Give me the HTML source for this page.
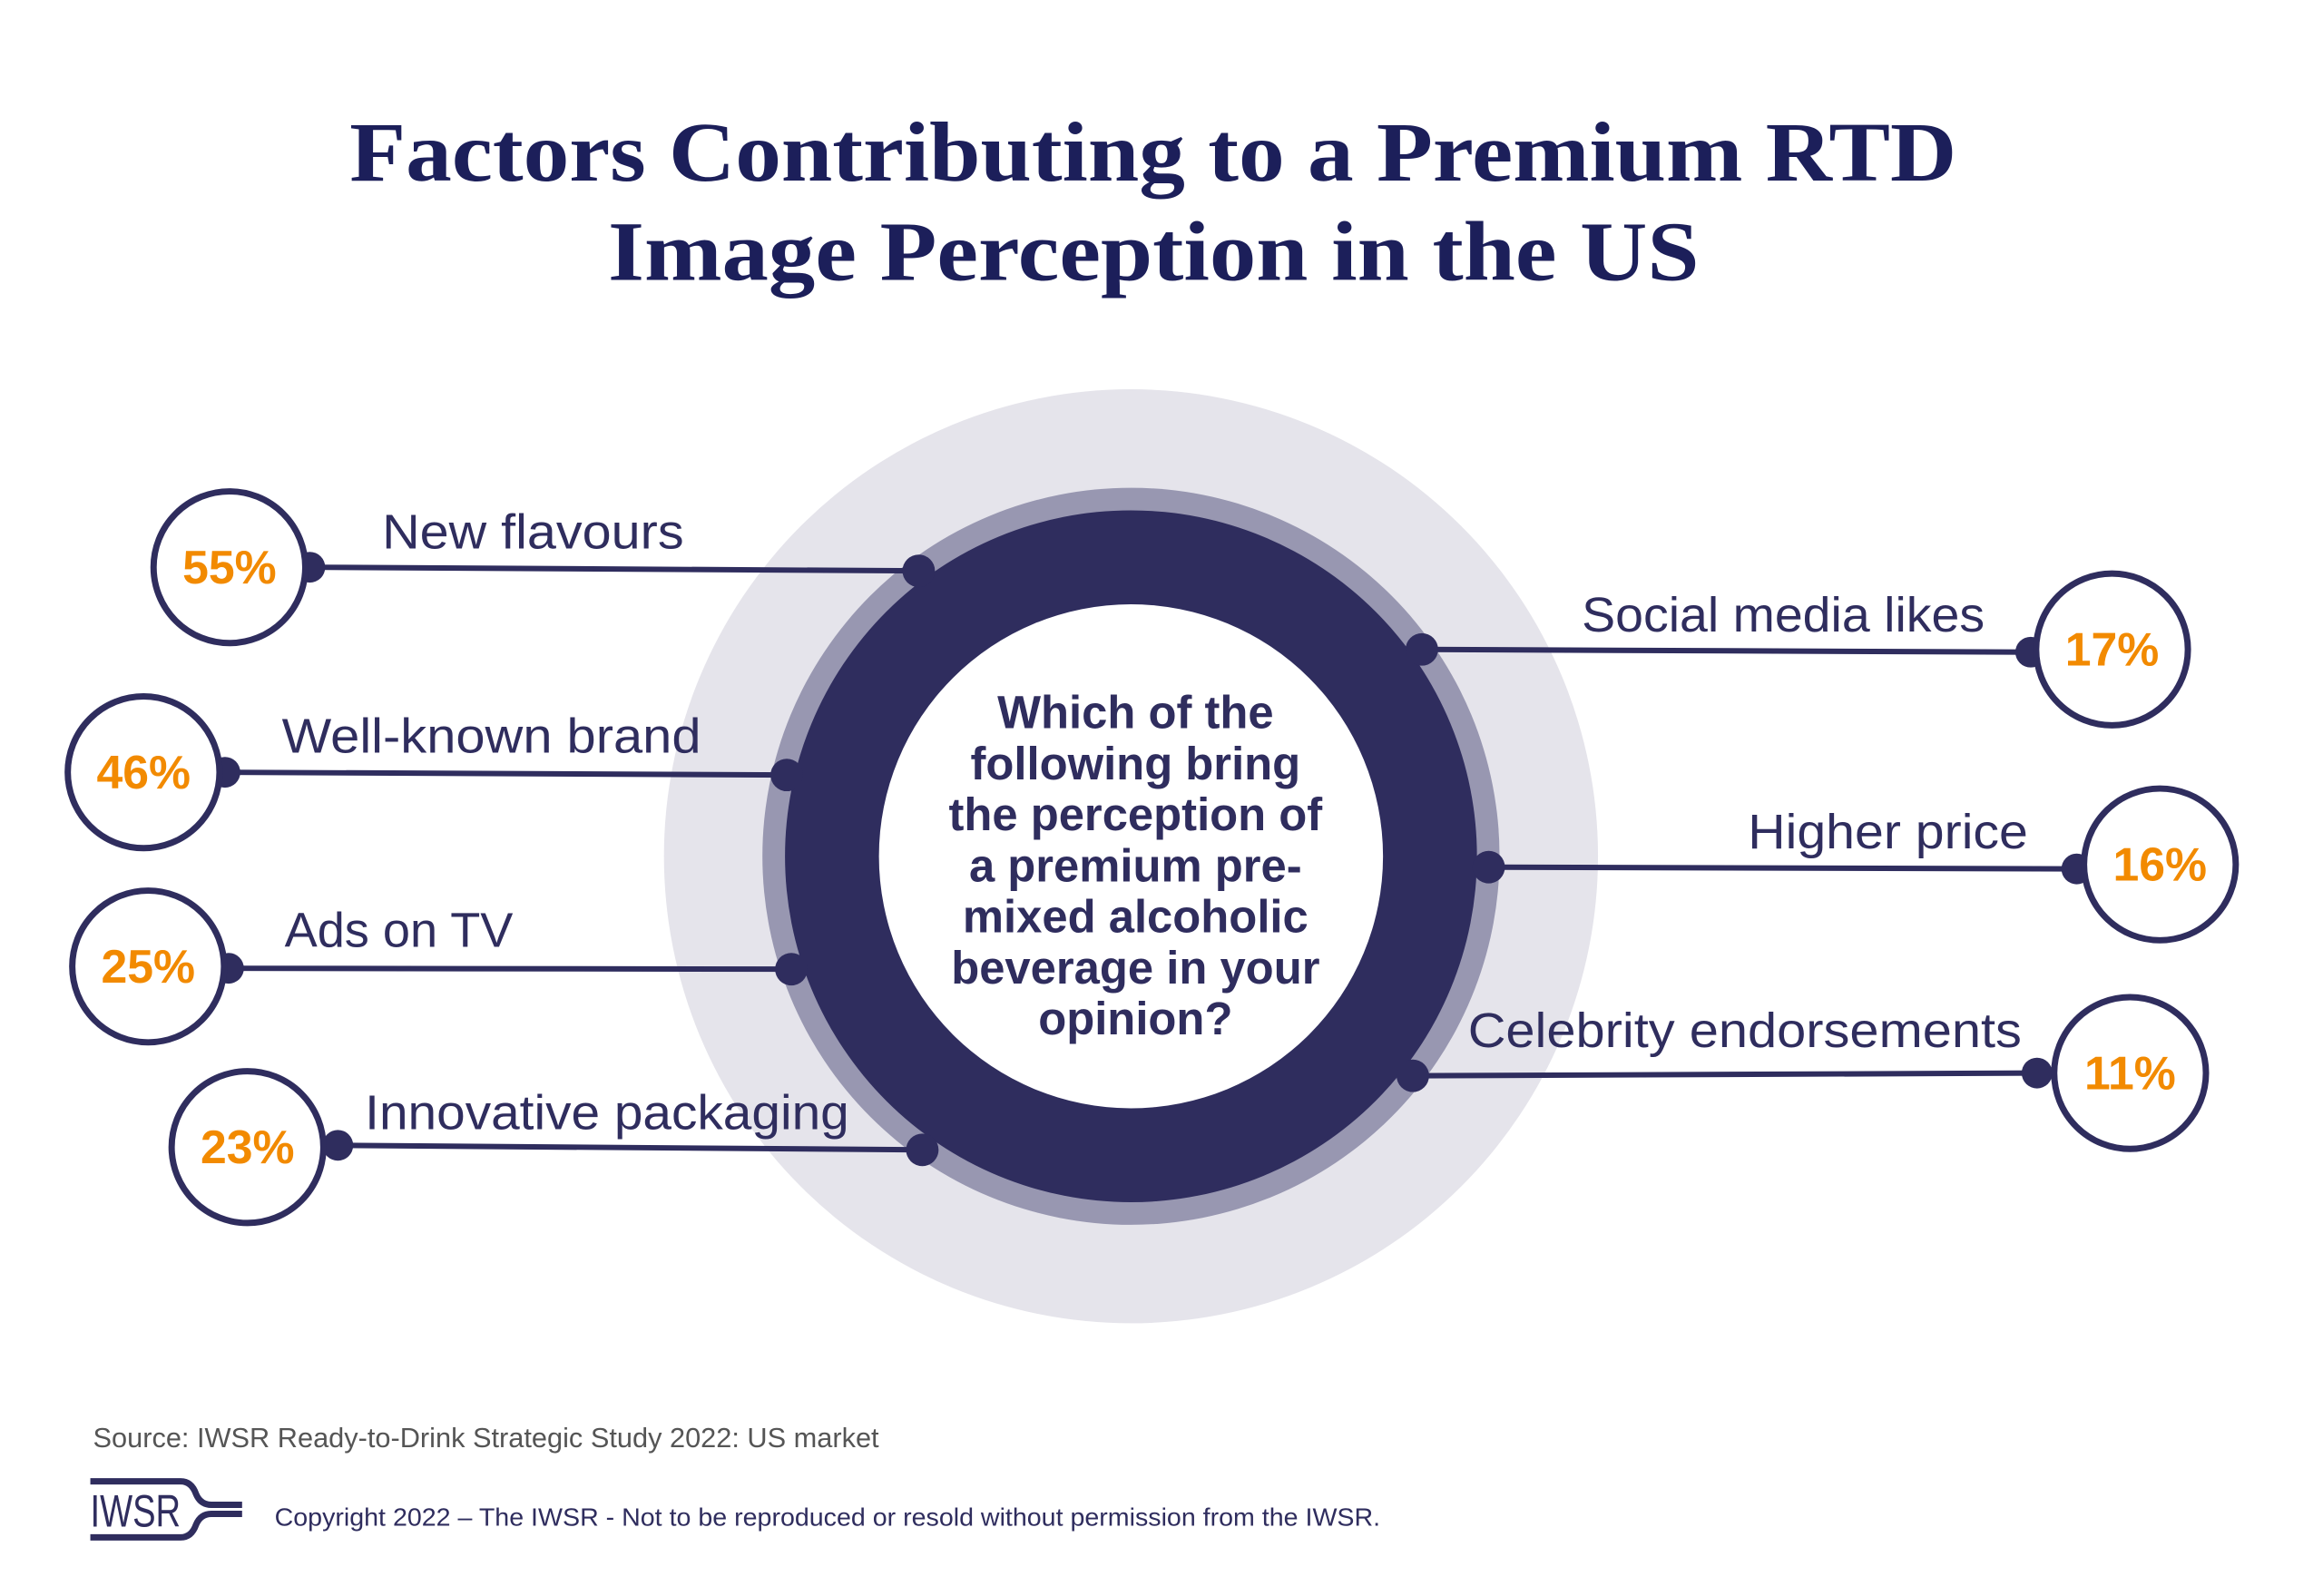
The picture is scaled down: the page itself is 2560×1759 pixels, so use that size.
<!DOCTYPE html>
<html><head><meta charset="utf-8"><style>html,body{margin:0;padding:0;background:#fff}svg{display:block}</style></head>
<body>
<svg width="2560" height="1759" viewBox="0 0 2560 1759" xmlns="http://www.w3.org/2000/svg">
<rect width="2560" height="1759" fill="#fff"/>
<g transform="scale(0.9955)">
<g font-family="Liberation Serif, serif" font-weight="bold" fill="#1c1f5a" font-size="94" text-anchor="start">
<text x="387" y="200" textLength="1779" lengthAdjust="spacingAndGlyphs">Factors Contributing to a Premium RTD</text>
<text x="673" y="310" textLength="1208" lengthAdjust="spacingAndGlyphs">Image Perception in the US</text>
</g>
<circle cx="1252" cy="948" r="517" fill="#e5e4eb"/>
<circle cx="1252" cy="948" r="408" fill="#9897b1"/>
<circle cx="1252" cy="948" r="383" fill="#2f2d5e"/>
<circle cx="1252" cy="948" r="279" fill="#fff"/>
<g stroke="#2f2d5e" stroke-width="6" fill="none">
<line x1="343" y1="628" x2="1017" y2="632"/>
<line x1="249" y1="855" x2="871" y2="858"/>
<line x1="253" y1="1072" x2="876" y2="1073"/>
<line x1="374" y1="1268" x2="1021" y2="1273"/>
<line x1="1574" y1="719" x2="2248" y2="722"/>
<line x1="1648" y1="960" x2="2299" y2="962"/>
<line x1="1564" y1="1191" x2="2255" y2="1188"/>
</g>
<g fill="#2f2d5e">
<circle cx="343" cy="628" r="17"/><circle cx="1017" cy="632" r="18"/>
<circle cx="249" cy="855" r="17"/><circle cx="871" cy="858" r="18"/>
<circle cx="253" cy="1072" r="17"/><circle cx="876" cy="1073" r="18"/>
<circle cx="374" cy="1268" r="17"/><circle cx="1021" cy="1273" r="18"/>
<circle cx="1574" cy="719" r="18"/><circle cx="2248" cy="722" r="17"/>
<circle cx="1648" cy="960" r="18"/><circle cx="2299" cy="962" r="17"/>
<circle cx="1564" cy="1191" r="18"/><circle cx="2255" cy="1188" r="17"/>
</g>
<g fill="#fff" stroke="#2f2d5e" stroke-width="7">
<circle cx="254" cy="628" r="84"/>
<circle cx="159" cy="855" r="84"/>
<circle cx="164" cy="1070" r="84"/>
<circle cx="274" cy="1270" r="84"/>
<circle cx="2338" cy="719" r="84"/>
<circle cx="2391" cy="957" r="84"/>
<circle cx="2358" cy="1188" r="84"/>
</g>
<g font-family="Liberation Sans, sans-serif" font-weight="bold" fill="#f28a00" font-size="52" text-anchor="middle">
<text x="254" y="646">55%</text>
<text x="159" y="873">46%</text>
<text x="164" y="1088">25%</text>
<text x="274" y="1288">23%</text>
<text x="2338" y="737">17%</text>
<text x="2391" y="975">16%</text>
<text x="2358" y="1206">11%</text>
</g>
<g font-family="Liberation Sans, sans-serif" fill="#2f2d5e" font-size="54">
<text x="423" y="607" textLength="334" lengthAdjust="spacingAndGlyphs">New flavours</text>
<text x="312" y="833" textLength="464" lengthAdjust="spacingAndGlyphs">Well-known brand</text>
<text x="315" y="1048" textLength="253" lengthAdjust="spacingAndGlyphs">Ads on TV</text>
<text x="404" y="1250" textLength="536" lengthAdjust="spacingAndGlyphs">Innovative packaging</text>
<text x="1751" y="699" textLength="446" lengthAdjust="spacingAndGlyphs">Social media likes</text>
<text x="1935" y="939" textLength="310" lengthAdjust="spacingAndGlyphs">Higher price</text>
<text x="1625" y="1159" textLength="613" lengthAdjust="spacingAndGlyphs">Celebrity endorsements</text>
</g>
<g font-family="Liberation Sans, sans-serif" font-weight="bold" fill="#2f2d5e" font-size="51" text-anchor="middle">
<text x="1257" y="806">Which of the</text>
<text x="1257" y="863">following bring</text>
<text x="1257" y="919">the perception of</text>
<text x="1257" y="976">a premium pre-</text>
<text x="1257" y="1032">mixed alcoholic</text>
<text x="1257" y="1089">beverage in your</text>
<text x="1257" y="1145">opinion?</text>
</g>
<text x="103" y="1602" font-family="Liberation Sans, sans-serif" font-size="31" fill="#555" textLength="870" lengthAdjust="spacingAndGlyphs">Source: IWSR Ready-to-Drink Strategic Study 2022: US market</text>
<text x="304" y="1689" font-family="Liberation Sans, sans-serif" font-size="28" fill="#2f2d5e" textLength="1224" lengthAdjust="spacingAndGlyphs">Copyright 2022 – The IWSR - Not to be reproduced or resold without permission from the IWSR.</text>
<g fill="none" stroke="#2f2d5e" stroke-width="7">
<path d="M100 1640 H200 Q212 1640 217 1654 Q222 1666 234 1666 H268"/>
<path d="M100 1702 H200 Q212 1702 217 1688 Q222 1676 234 1676 H268"/>
</g>
<text x="100" y="1690" font-family="Liberation Sans, sans-serif" font-size="50" fill="#2f2d5e" textLength="100" lengthAdjust="spacingAndGlyphs">IWSR</text>
</g>
</svg>
</body></html>
